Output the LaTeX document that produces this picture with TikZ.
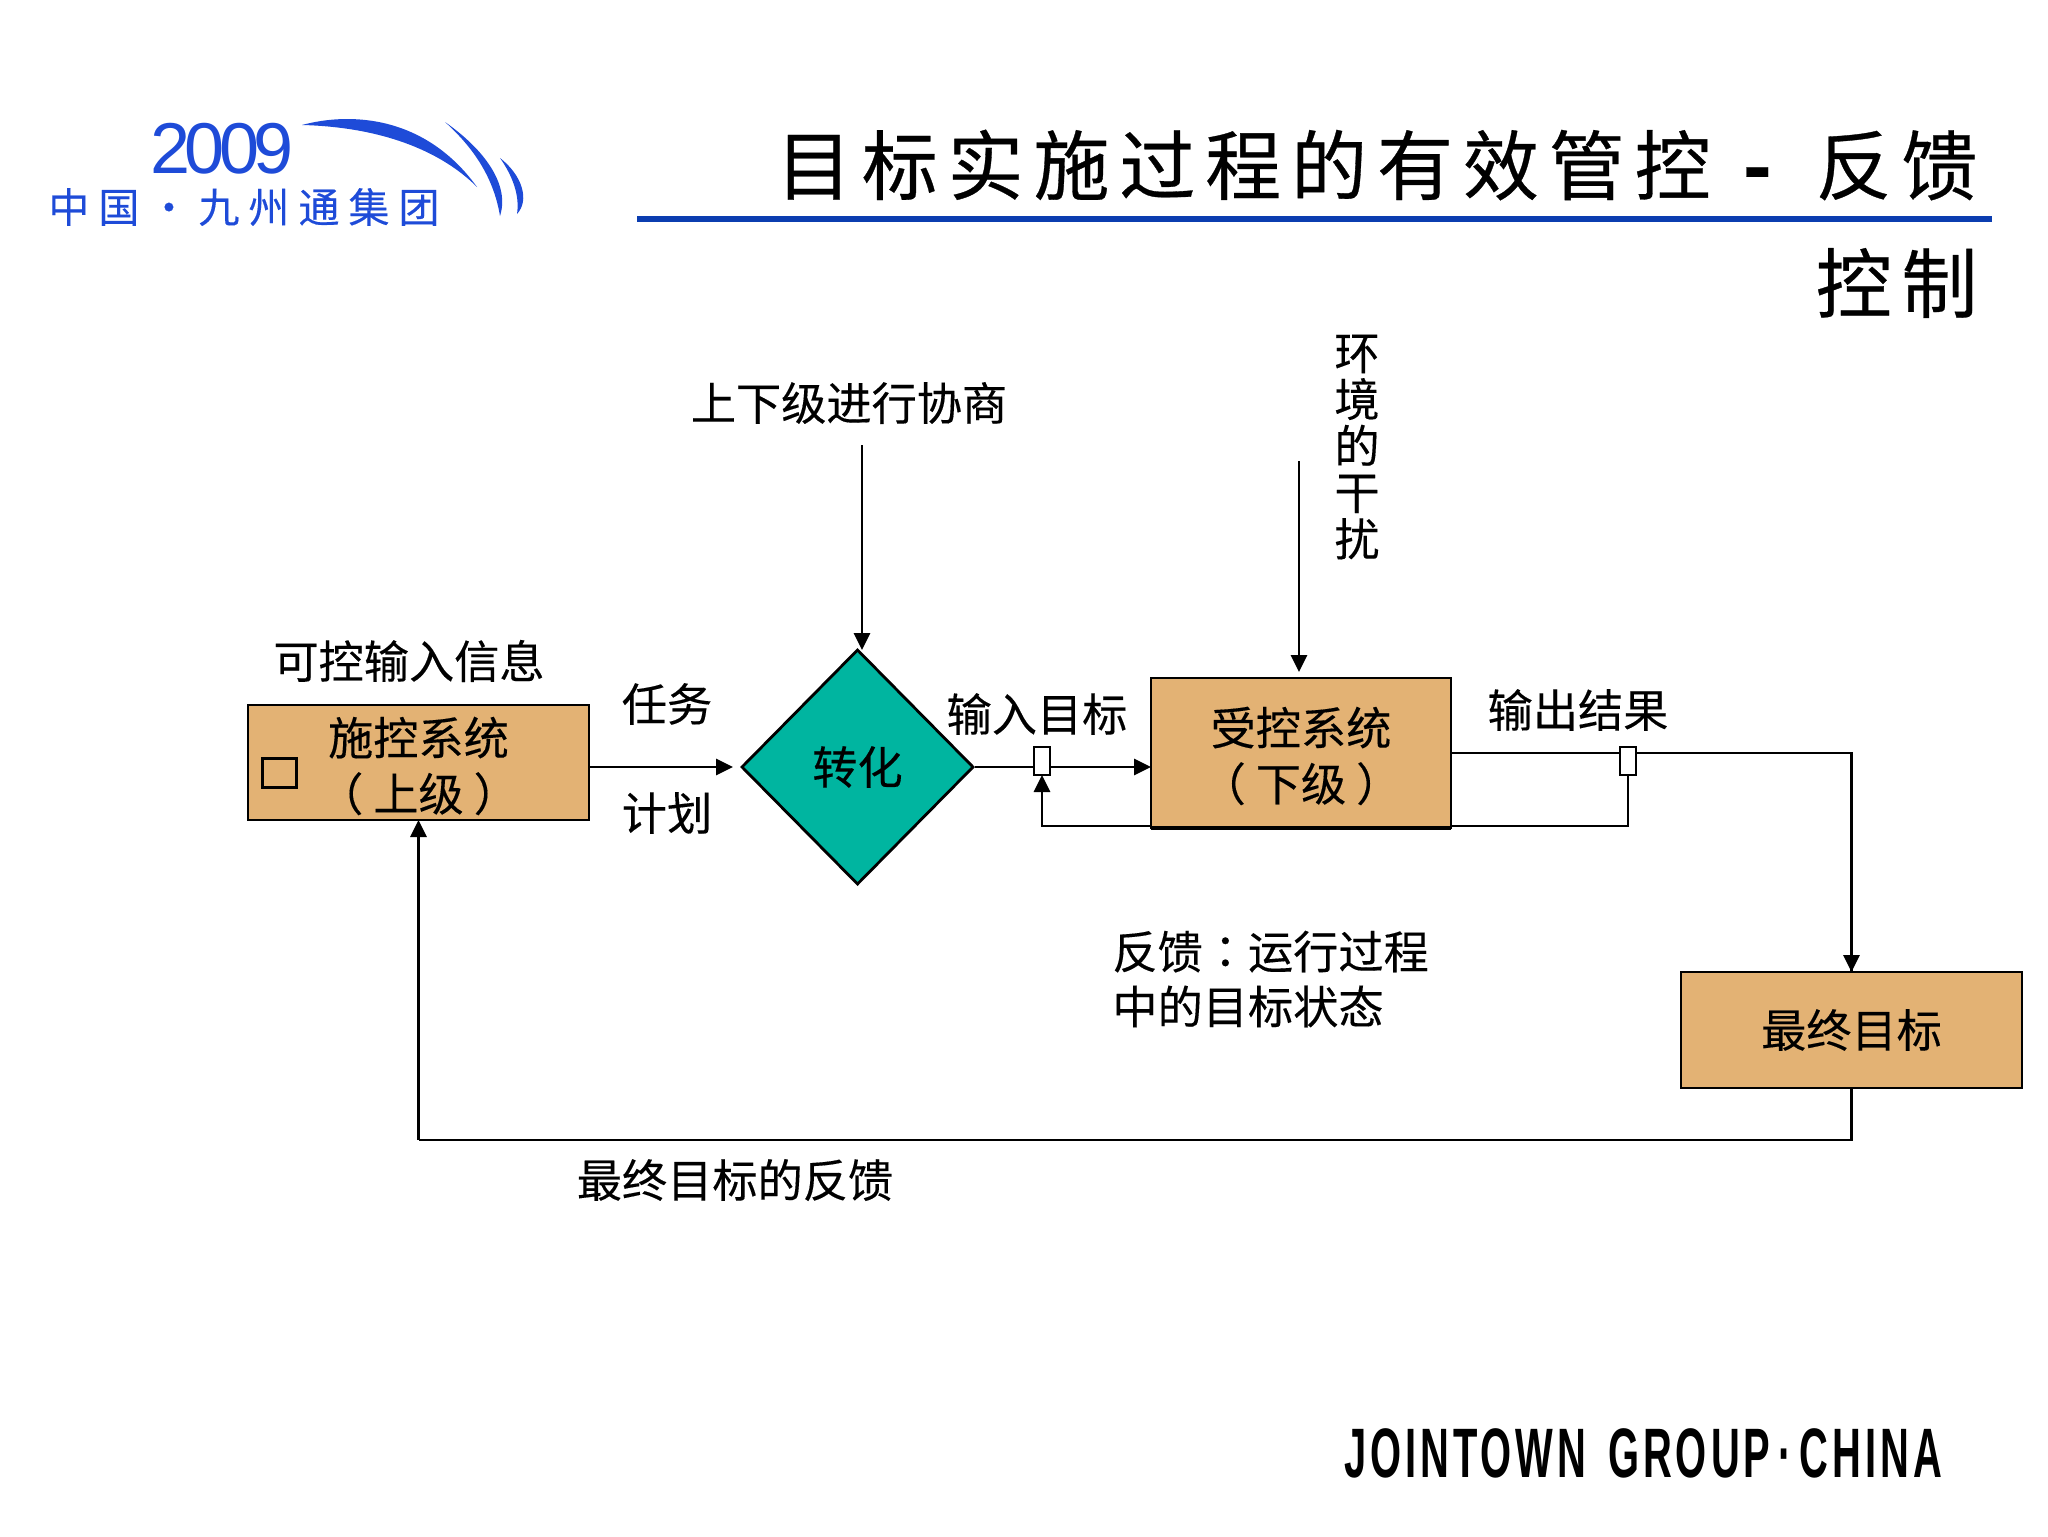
\documentclass[tikz,border=0pt]{standalone}
\usepackage{fontspec}
\setmainfont[FakeBold=0.25]{Noto Sans CJK SC}
\newfontfamily\tcfont[FakeBold=0.25]{Noto Sans CJK TC}
\newfontfamily\ttlfont[LetterSpace=13,FakeBold=0.4]{Noto Sans CJK SC}
\newfontfamily\logofont[LetterSpace=22,FakeBold=0.3]{Noto Sans CJK SC}
\newfontfamily\yearfont[LetterSpace=-8]{Liberation Sans}
\newfontfamily\brandfont[LetterSpace=10]{Liberation Sans}
\usetikzlibrary{arrows.meta,shapes.geometric}
\definecolor{boxfill}{HTML}{E3B274}
\definecolor{diafill}{HTML}{00B5A0}
\definecolor{rule}{HTML}{0B3DB0}
\definecolor{logoblue}{HTML}{1E4BD8}
\tikzset{
  lab/.style={font=\fontsize{22.6}{28}\selectfont,inner sep=0pt,align=center,text=black},
  sysbox/.style={draw=black,line width=1.4pt,fill=boxfill,inner sep=0pt,outer sep=0pt},
  tap/.style={draw=black,line width=1.1pt,fill=white,minimum width=8pt,minimum height=14pt,inner sep=0pt,outer sep=0pt},
  conn/.style={draw=black,line width=1.4pt},
  arr/.style={conn,-{Triangle[length=8.5pt,width=8pt]}},
  ttl/.style={font=\ttlfont\fontsize{38}{46}\selectfont,inner sep=0pt,anchor=east},
}
\begin{document}
\begin{tikzpicture}[x=0.5pt,y=-0.5pt]
\useasboundingbox (0,0) rectangle (2048,1536);

% logo
\node[inner sep=0pt,text=logoblue,font=\yearfont\fontsize{36}{36}\selectfont] (year) at (222,149) {2009};
\node[inner sep=0pt,text=logoblue,font=\logofont\fontsize{20.5}{20.5}\selectfont,anchor=west] (cn) at (48,207) {中国・九州通集团};
\fill[logoblue] (302,125) .. controls (350,112) and (425,115) .. (477,187)
  .. controls (440,150) and (380,127) .. (302,125);
\fill[logoblue] (445,122) .. controls (485,150) and (510,185) .. (500,216)
  .. controls (494,180) and (476,150) .. (445,122);
\fill[logoblue] (500,158) .. controls (522,175) and (530,200) .. (517,214)
  .. controls (520,195) and (512,175) .. (500,158);

% title
\node[ttl] (t1) at (1978,165) {目标实施过程的有效管控\kern 16pt\textbf{-}\kern 17pt 反馈};
\node[ttl] (t2) at (1978,283) {控制};
\coordinate (ra) at (637,219);
\coordinate (rb) at (1992,219);
\draw[rule,line width=2.6pt] (ra) -- (rb);

% nodes
\node[sysbox,minimum width=170.5pt,minimum height=57.5pt] (box1) at (418.5,762.5) {};
\node[sysbox,minimum width=150pt,minimum height=75pt] (box2) at (1301,753) {};
\node[sysbox,minimum width=170.5pt,minimum height=58pt] (box3) at (1851.5,1030) {};
\node[diamond,draw=black,line width=1.4pt,fill=diafill,aspect=1,inner sep=0pt,outer sep=0pt,
  minimum width=115.5pt,minimum height=117pt,font=\fontsize{22.6}{28}\selectfont] (d) at (857.5,767) {转化};
\node[draw=black,line width=1.1pt,minimum width=17pt,minimum height=14.5pt,inner sep=0pt] (sq) at (279.5,773) {};

% labels
\node[lab] (b1t) at (418.5,766) {施控系统\\（\kern 5pt 上级\kern 5pt）};
\node[lab] (b2t) at (1301,756) {受控系统\\（\kern 5pt 下级\kern 5pt）};
\node[lab] (b3t) at (1851.5,1030) {最终目标};
\node[lab] (l1) at (409,661) {可控输入信息};
\node[lab] (l2) at (667,704) {任务};
\node[lab] (l3) at (667,813) {计划};
\node[lab] (l4) at (1037,714) {输入目标};
\node[lab] (l5) at (1578,710) {输出结果};
\node[lab] (l6) at (849,403) {上下级进行协商};
\node[lab,font=\fontsize{22.6}{23.3}\selectfont] (l7) at (1357,447) {环\\境\\的\\干\\扰};
\node[lab,anchor=west,align=left,font=\fontsize{22.6}{27.5}\selectfont] (l8) at (1112,979) {反馈{\tcfont ：}运行过程\\中的目标状态};
\node[lab] (l9) at (735,1180) {最终目标的反馈};

% connectors
\coordinate (top1) at (862,445);
\coordinate (top2) at (1299,461);
\coordinate (fb) at (418.5,1140);
\draw[arr,shorten >=4.5pt] (box1.east |- d.west) -- (d.west);
\draw[arr] (top1) -- (top1 |- d.north);
\draw[arr,shorten >=3pt] (top2) -- (top2 |- box2.north);
\draw[arr,shorten <=1pt] (d.east) -- (d.east -| box2.west);
\draw[conn] (box2.east) -| (box3.north);
\draw[arr] (box2.east -| box3.north) -- (box3.north);
\draw[conn] (box3.south) |- (fb);
\draw[arr] (fb) -- (box1.south);

\node[tap] (sa) at (1042,761) {};
\node[tap] (sb) at (1628,761) {};
\draw[arr] (box2.south west) ++(0,-2) -| (sa.south);
\draw[conn] (box2.south east) ++(0,-2) -| (sb.south);
\draw[black,line width=2.2pt] (box2.south west) -- (box2.south east);

% brand
\node[inner sep=0pt,font=\brandfont\bfseries\fontsize{35}{35}\selectfont,anchor=center] (brand) at (1643,1453)
  {\scalebox{0.57}[1]{JOINTOWN\kern 0.55em GROUP\kern 0.2em·\kern 0.2em CHINA}};
\end{tikzpicture}
\end{document}
